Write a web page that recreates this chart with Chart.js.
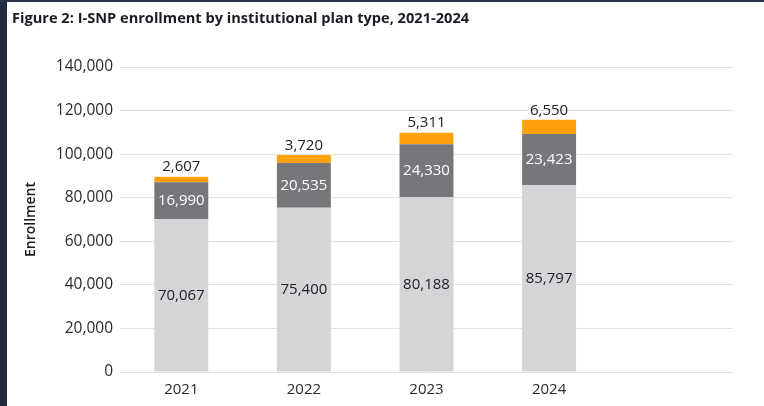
<!DOCTYPE html>
<html>
<head>
<meta charset="utf-8">
<script src="https://cdn.jsdelivr.net/npm/chart.js@4"></script>
<style>
  html, body { margin: 0; padding: 0; background: #fff; }
  #wrap { position: relative; width: 764px; height: 406px; overflow: hidden; }
  #strip { position: absolute; left: 0; top: 0; width: 7px; height: 406px; background: #1f2a3c; }
  #topstrip { position: absolute; left: 0; top: 0; width: 764px; height: 2px; background: #2a3346; }
  #title { position: absolute; left: 12px; top: 7px; font-family: "Open Sans", sans-serif; font-weight: 700; font-size: 14.6px; color: #1b1b24; white-space: nowrap; }
  canvas { position: absolute; left: 0; top: 0; }
</style>
</head>
<body>
<div id="wrap">
  <canvas id="c" width="764" height="406"></canvas>
  <div id="strip"></div>
  <div id="topstrip"></div>
  <div id="title">Figure 2: I-SNP enrollment by institutional plan type, 2021-2024</div>
</div>
<script>
const categories = ['2021', '2022', '2023', '2024', ''];
const seriesLight = [70067, 75400, 80188, 85797, null];
const seriesDark = [16990, 20535, 24330, 23423, null];
const seriesOrange = [2607, 3720, 5311, 6550, null];
const yTicks = [0, 20000, 40000, 60000, 80000, 100000, 120000, 140000];
const yAxisTitle = 'Enrollment';

const FONT = '"Open Sans", sans-serif';
const fmt = v => v.toLocaleString('en-US');

const labelPlugin = {
  id: 'segLabels',
  afterDatasetsDraw(chart) {
    const ctx = chart.ctx;
    ctx.save();
    ctx.font = '15px ' + FONT;
    ctx.textAlign = 'center';
    chart.data.datasets.forEach((ds, di) => {
      const meta = chart.getDatasetMeta(di);
      meta.data.forEach((el, i) => {
        const v = ds.data[i];
        if (v == null) return;
        if (di === 2) {
          ctx.fillStyle = '#222226';
          ctx.textBaseline = 'bottom';
          ctx.fillText(fmt(v), el.x, el.y - 2);
        } else {
          ctx.fillStyle = di === 1 ? '#ffffff' : '#222226';
          ctx.textBaseline = 'middle';
          ctx.fillText(fmt(v), el.x, (el.y + el.base) / 2);
        }
      });
    });
    ctx.restore();
  }
};

new Chart(document.getElementById('c'), {
  type: 'bar',
  data: {
    labels: categories,
    datasets: [
      { label: 'Light', data: seriesLight, backgroundColor: '#d4d5d7' },
      { label: 'Dark', data: seriesDark, backgroundColor: '#76777b' },
      { label: 'Orange', data: seriesOrange, backgroundColor: '#ffa10a' }
    ]
  },
  options: {
    responsive: false,
    animation: false,
    devicePixelRatio: 1,
    categoryPercentage: 1,
    barPercentage: 0.44,
    layout: { padding: { top: 67, right: 31, bottom: 8, left: 0 } },
    plugins: { legend: { display: false }, tooltip: { enabled: false }, title: { display: false } },
    scales: {
      x: {
        stacked: true,
        afterFit(scale) { scale.height = 26; },
        grid: { display: false, drawTicks: false },
        border: { display: false },
        ticks: { color: '#2a2a2e', font: { family: FONT, size: 15 }, padding: 9 }
      },
      y: {
        stacked: true,
        min: 0,
        max: 140000,
        afterBuildTicks(scale) { scale.ticks = yTicks.map(v => ({ value: v })); },
        afterFit(scale) { scale.width = 120; },
        grid: { color: '#e3e3e3', lineWidth: 1, drawTicks: false },
        border: { display: false },
        ticks: { color: '#2a2a2e', font: { family: FONT, size: 15.5 }, padding: 7, callback: v => fmt(v) },
        title: { display: true, text: yAxisTitle, color: '#1b1b24', font: { family: FONT, size: 14, weight: '600' }, padding: { top: 23, bottom: 0 } }
      }
    }
  },
  plugins: [labelPlugin]
});
</script>
</body>
</html>
